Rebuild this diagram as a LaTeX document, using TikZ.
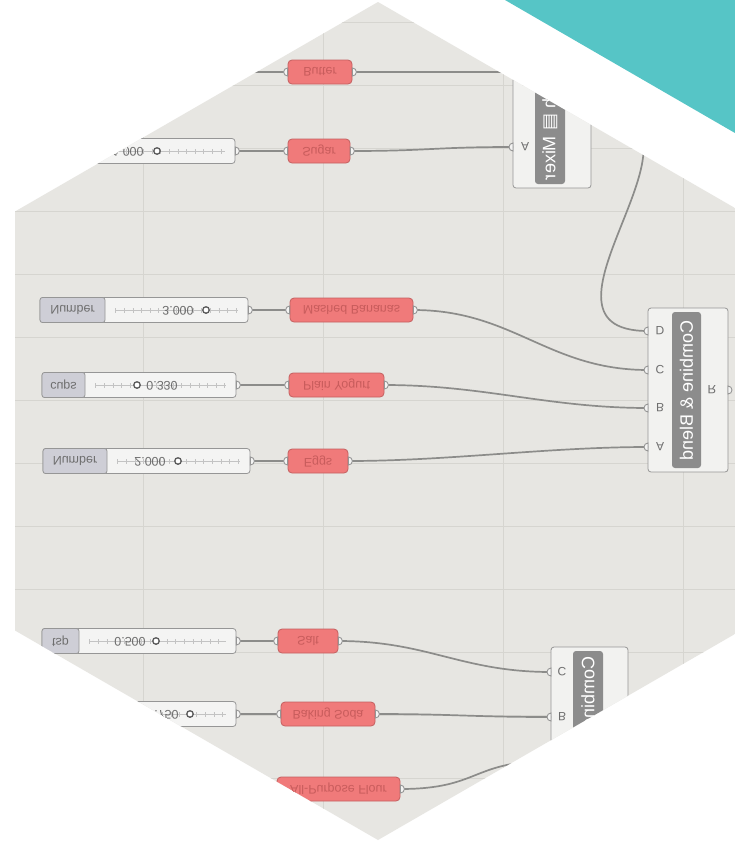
\documentclass[tikz,border=0pt]{standalone}
\usepackage{fontspec}
\setmainfont{Liberation Sans}
\newfontfamily\symfont{DejaVu Sans}

\definecolor{ghcanvas}{RGB}{231,230,226}
\definecolor{ghgrid}{RGB}{214,213,208}
\definecolor{ghteal}{RGB}{86,197,198}
\definecolor{ghwire}{RGB}{140,140,138}
\definecolor{ghborder}{RGB}{150,150,150}
\definecolor{ghslider}{RGB}{244,244,243}
\definecolor{ghtag}{RGB}{206,206,214}
\definecolor{ghtext}{RGB}{110,110,110}
\definecolor{ghtick}{RGB}{195,195,195}
\definecolor{ghknob}{RGB}{90,90,90}
\definecolor{ghred}{RGB}{240,122,122}
\definecolor{ghredline}{RGB}{196,96,96}
\definecolor{ghredtext}{RGB}{200,92,92}
\definecolor{ghcomp}{RGB}{242,242,240}
\definecolor{ghband}{RGB}{140,140,140}

\newcommand{\flipped}[1]{\scalebox{1}[-1]{#1}}
\newcommand{\gripout}[1]{\draw[grip] ([yshift=-4pt]#1) arc[start angle=-90, end angle=90, radius=4pt] -- cycle;}
\newcommand{\gripin}[1]{\draw[grip] ([yshift=4pt]#1) arc[start angle=90, end angle=270, radius=4pt] -- cycle;}

\tikzset{
  grid/.style={draw=ghgrid, line width=0.8pt},
  wire/.style={draw=ghwire, line width=1.7pt},
  grip/.style={draw=ghborder, fill=ghslider, line width=0.9pt},
  slider/.style={draw=ghborder, fill=ghslider, rounded corners=3pt, line width=0.8pt, minimum height=25pt, inner sep=0pt},
  sltag/.style={draw=ghborder, fill=ghtag, rounded corners=2.5pt, line width=0.8pt, minimum height=25pt, inner sep=0pt, text=ghtext, font=\fontsize{12.5}{13}\selectfont},
  slval/.style={text=ghtext, font=\fontsize{12.5}{13}\selectfont, inner sep=0pt},
  knob/.style={draw=ghknob, fill=white, line width=1.3pt, circle, inner sep=0pt, minimum size=6.5pt},
  track/.style={draw=ghtick, line width=0.5pt, postaction={draw=ghtick, line width=5pt, dash pattern=on 0.6pt off 8pt}},
  param/.style={draw=ghredline, fill=ghred, rounded corners=4pt, line width=0.8pt, minimum height=24pt, inner sep=0pt, text=ghredtext, font=\fontsize{12.5}{13}\selectfont},
  comp/.style={draw=ghborder, fill=ghcomp, rounded corners=3pt, line width=0.8pt, inner sep=0pt},
  band/.style={fill=ghband, rounded corners=3pt, inner sep=0pt},
  bandtext/.style={text=white, font=\fontsize{18}{18}\selectfont, rotate=-90, inner sep=0pt},
  pin/.style={text=ghtext, font=\fontsize{12}{12}\selectfont, inner sep=0pt},
}

\begin{document}
\begin{tikzpicture}[x=1pt,y=-1pt]
\useasboundingbox (0,0) rectangle (735,841);
\fill[white] (0,0) rectangle (735,841);
\fill[ghteal] (505,0) -- (735,0) -- (735,133) -- cycle;

\begin{scope}
\clip (378,2) -- (741,211.5) -- (741,630.5) -- (378,840) -- (15,630.5) -- (15,211.5) -- cycle;
\fill[ghcanvas] (0,0) rectangle (741,841);
\foreach \gx in {143,323,503,683} \draw[grid] (\gx,0) -- (\gx,841);
\foreach \gy in {22,85,...,778} \draw[grid] (0,\gy) -- (741,\gy);

% sliders
\node[slider, minimum width=215pt] (s1) at (127.5,151) {};
\node[sltag, minimum width=44pt, right] (s1tag) at (s1.west) {\flipped{cups}};
\draw[track] ([xshift=10pt]s1tag.east) -- ([xshift=-10pt]s1.east);
\node[slval] (s1val) at (128,152) {\flipped{1.000}};
\node[knob] (s1knob) at (157,151) {};

\node[slider, minimum width=208pt] (s3) at (144,310) {};
\node[sltag, minimum width=65pt, right] (s3tag) at (s3.west) {\flipped{Number}};
\draw[track] ([xshift=10pt]s3tag.east) -- ([xshift=-10pt]s3.east);
\node[slval] (s3val) at (178,311) {\flipped{3.000}};
\node[knob] (s3knob) at (206,310) {};

\node[slider, minimum width=194pt] (s4) at (139,385) {};
\node[sltag, minimum width=43pt, right] (s4tag) at (s4.west) {\flipped{cups}};
\draw[track] ([xshift=10pt]s4tag.east) -- ([xshift=-10pt]s4.east);
\node[slval] (s4val) at (162,386) {\flipped{0.330}};
\node[knob] (s4knob) at (137,385) {};

\node[slider, minimum width=207pt] (s5) at (146.5,461) {};
\node[sltag, minimum width=64pt, right] (s5tag) at (s5.west) {\flipped{Number}};
\draw[track] ([xshift=10pt]s5tag.east) -- ([xshift=-10pt]s5.east);
\node[slval] (s5val) at (150,462) {\flipped{2.000}};
\node[knob] (s5knob) at (178,461) {};

\node[slider, minimum width=194pt] (s6) at (139,641) {};
\node[sltag, minimum width=37pt, right] (s6tag) at (s6.west) {\flipped{tsp}};
\draw[track] ([xshift=10pt]s6tag.east) -- ([xshift=-10pt]s6.east);
\node[slval] (s6val) at (130,642) {\flipped{0.500}};
\node[knob] (s6knob) at (156,641) {};

\node[slider, minimum width=216pt] (s7) at (128,714) {};
\node[sltag, minimum width=37pt, right] (s7tag) at (s7.west) {\flipped{tsp}};
\draw[track] ([xshift=10pt]s7tag.east) -- ([xshift=-10pt]s7.east);
\node[slval] (s7val) at (163,715) {\flipped{0.750}};
\node[knob] (s7knob) at (190,714) {};

% ingredients
\node[param, minimum width=64pt] (p1) at (320,72) {\flipped{Butter}};
\node[param, minimum width=62pt] (p2) at (319,151) {\flipped{Sugar}};
\node[param, minimum width=123pt] (p3) at (351.5,310) {\flipped{Mashed Bananas}};
\node[param, minimum width=95pt] (p4) at (336.5,385) {\flipped{Plain Yogurt}};
\node[param, minimum width=60pt] (p5) at (318,461) {\flipped{Eggs}};
\node[param, minimum width=60pt] (p6) at (308,641) {\flipped{Salt}};
\node[param, minimum width=94pt] (p7) at (328,714) {\flipped{Baking Soda}};
\node[param, minimum width=123pt] (p8) at (338.5,789) {\flipped{All-Purpose Flour}};

% components
\node[comp, minimum width=78pt, minimum height=168pt] (mixer) at (552,104) {};
\node[band, minimum width=30pt, minimum height=160pt] (mixband) at (550,104) {};
\node[bandtext, anchor=east] (mixname) at ([yshift=4pt]mixband.south) {\flipped{Beat with {\symfont ▤} Mixer}};
\node[pin] at (525,147) {\flipped{A}};
\coordinate (mixA) at (513,147);
\coordinate (mixB) at (513,72);
\coordinate (mixR) at (591,110);

\node[comp, minimum width=80pt, minimum height=164pt] (blend) at (688,390) {};
\node[band, minimum width=29pt, minimum height=156pt] (blendband) at (686.5,390) {};
\node[bandtext] (blendname) at (686.5,391) {\flipped{Combine \& Blend}};
\node[pin] at (660,331) {\flipped{D}};
\node[pin] at (660,370) {\flipped{C}};
\node[pin] at (660,408) {\flipped{B}};
\node[pin] at (660,447) {\flipped{A}};
\node[pin] at (712,390) {\flipped{R}};
\coordinate (blendD) at (648,331);
\coordinate (blendC) at (648,370);
\coordinate (blendB) at (648,408);
\coordinate (blendA) at (648,447);
\coordinate (blendR) at (728,390);

\node[comp, minimum width=77pt, minimum height=160pt] (comb) at (589.5,727) {};
\node[band, minimum width=30pt, minimum height=152pt] (combband) at (588,727) {};
\node[bandtext, anchor=west] (combname) at ([yshift=-5pt]combband.north) {\flipped{Combine}};
\node[pin] at (562,672) {\flipped{C}};
\node[pin] at (562,717) {\flipped{B}};
\node[pin] at (562,761) {\flipped{A}};
\coordinate (combC) at (551,672);
\coordinate (combB) at (551,717);
\coordinate (combA) at (551,761);

% wires
\coordinate (butterin) at (200,72);
\draw[wire] (butterin) -- (p1);
\draw[wire] (s1) -- (p2);
\draw[wire] (s3) -- (p3);
\draw[wire] (s4) -- (p4);
\draw[wire] (s5) -- (p5);
\draw[wire] (s6) -- (p6);
\draw[wire] (s7) -- (p7);
\draw[wire] (p1.east) -- (mixB);
\draw[wire] (p2.east) .. controls +(80,0) and +(-80,0) .. (mixA);
\draw[wire] (mixR) .. controls +(150,0) and +(-140,0) .. (blendD);
\draw[wire] (p3.east) .. controls +(100,0) and +(-100,0) .. (blendC);
\draw[wire] (p4.east) .. controls +(100,0) and +(-100,0) .. (blendB);
\draw[wire] (p5.east) .. controls +(100,0) and +(-100,0) .. (blendA);
\draw[wire] (p6.east) .. controls +(90,0) and +(-90,0) .. (combC);
\draw[wire] (p7.east) .. controls +(80,0) and +(-80,0) .. (combB);
\draw[wire] (p8.east) .. controls +(80,0) and +(-80,0) .. (combA);

% grips
\foreach \n in {s1,s3,s4,s5,s6,s7,p1,p2,p3,p4,p5,p6,p7,p8} {\gripout{\n.east}}
\foreach \n in {p1,p2,p3,p4,p5,p6,p7,p8} {\gripin{\n.west}}
\foreach \n in {mixA,mixB,blendD,blendC,blendB,blendA,combC,combB,combA} {\gripin{\n}}
\gripout{mixR}
\gripout{blendR}
\end{scope}
\end{tikzpicture}
\end{document}
